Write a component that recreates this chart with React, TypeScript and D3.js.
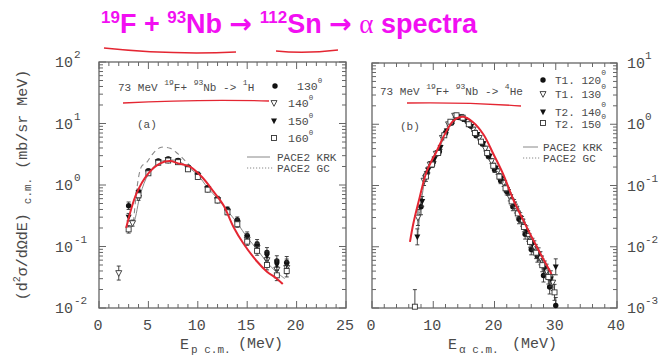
import React from "react";
import * as d3 from "d3";

// ---------- Data: left panel (protons) ----------
const L130_E = [3, 4, 5, 6, 7, 8, 9, 10, 11, 12, 13, 14, 15, 16, 17, 18, 19];
const L130 = [0.46, 0.78, 1.7, 2.45, 2.65, 2.5, 1.95, 1.5, 0.9, 0.6, 0.4, 0.27, 0.15, 0.11, 0.08, 0.058, 0.055];
const L140_E = [2, 3.4, 4, 5, 6, 7, 8, 9, 10, 11, 12, 13, 14, 15, 16, 17, 18, 19];
const L140 = [0.037, 0.24, 0.62, 1.6, 2.35, 2.55, 2.4, 1.85, 1.4, 0.86, 0.57, 0.37, 0.24, 0.13, 0.095, 0.06, 0.042, 0.045];
const L150_E = [3, 4, 5, 6, 7, 8, 9, 10, 11, 12, 13, 14, 15, 16, 17, 18, 19];
const L150 = [0.3, 0.75, 1.65, 2.4, 2.6, 2.45, 1.9, 1.45, 0.88, 0.58, 0.38, 0.25, 0.14, 0.1, 0.07, 0.05, 0.05];
const L160_E = [3, 4, 5, 6, 7, 8, 9, 10, 11, 12, 13, 14, 15, 16, 17, 18, 19];
const L160 = [0.19, 0.68, 1.55, 2.3, 2.5, 2.35, 1.8, 1.35, 0.84, 0.56, 0.36, 0.23, 0.12, 0.085, 0.05, 0.034, 0.04];
const L_ERR = [0.15, 0.1, 0.08, 0.07, 0.07, 0.07, 0.07, 0.08, 0.08, 0.09, 0.1, 0.12, 0.15, 0.18, 0.2, 0.22, 0.25, 0.25];
const L140_ERR = [0.3, 0.12, 0.1, 0.08, 0.07, 0.07, 0.07, 0.07, 0.08, 0.08, 0.09, 0.1, 0.12, 0.15, 0.18, 0.2, 0.22, 0.25];

const LKRK_E = [3.0, 3.5, 4.2, 5, 6, 7, 8, 9, 10, 11, 12, 13, 14, 15, 16, 17, 18, 18.8];
const LKRK = [0.19, 0.24, 0.72, 1.5, 2.3, 2.55, 2.45, 1.95, 1.45, 0.9, 0.6, 0.38, 0.24, 0.14, 0.09, 0.055, 0.038, 0.03];
const LGC_E = [3.5, 4.3, 4.8, 5.3, 5.8, 6.3, 7.2, 8.0, 8.7, 9.5, 10.5];
const LGC = [0.25, 2.0, 2.3, 3.0, 3.7, 4.1, 3.95, 3.2, 2.5, 1.85, 1.3];
const LRED_E = [2.75, 3.8, 5.0, 6.2, 7.2, 8.0, 9.2, 10.4, 11.6, 12.6, 13.6, 14.6, 16, 17, 18, 18.6];
const LRED = [0.2, 0.73, 1.55, 2.25, 2.45, 2.25, 1.99, 1.36, 0.78, 0.47, 0.21, 0.113, 0.057, 0.039, 0.03, 0.0245];

// ---------- Data: right panel (alphas) ----------
const R120_E = [8, 9, 10, 11, 12, 13, 14, 15, 16, 17, 18, 19, 20, 21, 22, 23, 24, 25, 26, 27, 28, 29, 30];
const R120 = [0.045, 0.16, 0.24, 0.36, 0.72, 1.05, 1.3, 1.2, 0.95, 0.65, 0.48, 0.3, 0.18, 0.12, 0.08, 0.045, 0.028, 0.016, 0.009, 0.007, 0.0034, 0.0022, 0.0011];
const R130_E = [7.5, 8.5, 9.5, 10.5, 11.5, 12.5, 13.5, 14.5, 15.5, 16.5, 17.5, 18.5, 19.5, 20.5, 21.5, 22.5, 23.5, 24.5, 25.5, 26.5, 27.5, 28.5, 29.5];
const R130 = [0.03, 0.12, 0.22, 0.33, 0.6, 1.0, 1.38, 1.32, 1.1, 0.82, 0.6, 0.4, 0.25, 0.17, 0.11, 0.065, 0.042, 0.026, 0.015, 0.01, 0.0065, 0.004, 0.0026];
const R140_E = [7.4, 8.2, 9.2, 10.2, 11.2, 12.2, 13.2, 14.2, 15.2, 16.2, 17.2, 18.2, 19.2, 20.2, 21.2, 22.2, 23.2, 24.2, 25.2, 26.2, 27.2, 28.2, 29.2, 30];
const R140 = [0.0145, 0.055, 0.18, 0.27, 0.42, 0.78, 1.1, 1.3, 1.18, 0.92, 0.68, 0.48, 0.3, 0.19, 0.13, 0.08, 0.05, 0.03, 0.018, 0.011, 0.0075, 0.0045, 0.003, 0.0047];
const R150_E = [7.0, 8.8, 9.8, 10.8, 11.8, 12.8, 13.8, 14.8, 15.8, 16.8, 17.8, 18.8, 19.8, 20.8, 21.8, 22.8, 23.8, 24.8, 25.8, 26.8, 27.8, 28.8, 29.8];
const R150 = [0.00105, 0.14, 0.22, 0.34, 0.66, 1.1, 1.4, 1.28, 1.0, 0.72, 0.52, 0.34, 0.21, 0.14, 0.09, 0.055, 0.035, 0.021, 0.012, 0.008, 0.005, 0.0032, 0.0018];
const R_ERR = [0.35, 0.2, 0.12, 0.1, 0.08, 0.07, 0.06, 0.06, 0.06, 0.07, 0.08, 0.09, 0.1, 0.12, 0.14, 0.16, 0.18, 0.2, 0.22, 0.25, 0.28, 0.3, 0.35, 0.35];
const R150_ERR = [0.9, 0.2, 0.12, 0.1, 0.08, 0.07, 0.06, 0.06, 0.06, 0.07, 0.08, 0.09, 0.1, 0.12, 0.14, 0.16, 0.18, 0.2, 0.22, 0.25, 0.28, 0.3, 0.35];

const RKRK_E = [7.5, 8, 9, 10, 11, 12, 13, 14, 15, 16, 17, 18, 19, 20, 21, 22, 23, 24, 25, 26, 27, 28, 29, 30];
const RKRK = [0.015, 0.05, 0.17, 0.26, 0.4, 0.72, 1.05, 1.35, 1.3, 1.05, 0.75, 0.52, 0.33, 0.2, 0.13, 0.085, 0.052, 0.032, 0.019, 0.011, 0.0075, 0.0045, 0.003, 0.0018];
const RGC = [0.02, 0.06, 0.19, 0.29, 0.45, 0.78, 1.12, 1.42, 1.38, 1.12, 0.82, 0.57, 0.37, 0.23, 0.15, 0.1, 0.062, 0.038, 0.023, 0.013, 0.009, 0.0055, 0.0035, 0.0022];
const RRED_E = [6.2, 6.75, 7.8, 8.9, 10.6, 11.9, 13.3, 14.9, 16.5, 18.2, 19.8, 21.4, 23.1, 24.7, 26.9, 29.3];
const RRED = [0.012, 0.024, 0.065, 0.166, 0.37, 0.69, 1.14, 1.32, 1.08, 0.68, 0.33, 0.155, 0.058, 0.027, 0.01, 0.0036];

const LEFT_LEGEND = ["130", "140", "150", "160"];
const RIGHT_LEGEND = ["T1. 120", "T1. 130", "T2. 140", "T2. 150"];
const MARKERS = ["circle", "triOpen", "tri", "square"];

const MONO = "'Liberation Mono', 'DejaVu Sans Mono', monospace";
const TXT = "#4a4a4a";
const AX = "#666";
const RED = "#e42632";

function Marker({ type, x, y }: { type: string; x: number; y: number }) {
  const s = 3;
  if (type === "circle") return <circle cx={x} cy={y} r={2.7} fill="#111" />;
  if (type === "tri" || type === "triOpen") {
    const p = `M${x - s},${y - s * 0.8}L${x + s},${y - s * 0.8}L${x},${y + s * 1.1}Z`;
    return type === "tri" ? (
      <path d={p} fill="#111" />
    ) : (
      <path d={p} fill="#fff" stroke="#333" strokeWidth={0.9} />
    );
  }
  return <rect x={x - 2.5} y={y - 2.5} width={5} height={5} fill="#fff" stroke="#333" strokeWidth={0.9} />;
}

type Sc = (v: number) => number;

function Series({ E, V, err, type, x, y, ymin }: { E: number[]; V: number[]; err: number[]; type: string; x: Sc; y: Sc; ymin: number }) {
  return (
    <g>
      {E.map((e, i) => {
        const v = V[i];
        const r = err[i] ?? 0.1;
        const hi = v * (1 + r);
        const lo = Math.max(v / (1 + r), ymin);
        const cx = x(e);
        return (
          <g key={i}>
            <line x1={cx} x2={cx} y1={y(hi)} y2={y(lo)} stroke="#333" strokeWidth={0.9} />
            <line x1={cx - 2} x2={cx + 2} y1={y(hi)} y2={y(hi)} stroke="#333" strokeWidth={0.9} />
            <line x1={cx - 2} x2={cx + 2} y1={y(lo)} y2={y(lo)} stroke="#333" strokeWidth={0.9} />
            <Marker type={type} x={cx} y={y(v)} />
          </g>
        );
      })}
    </g>
  );
}

function Frame({ x, y, xMinor, xMajor, xLabels, yLeftLabels, yRightLabels }: any) {
  const [x0, x1] = x.range();
  const [y0, y1] = y.range();
  const [dmin, dmax] = y.domain();
  const ticks: React.ReactNode[] = [];
  const xd = x.domain();
  for (let v = xd[0]; v <= xd[1] + 1e-9; v += xMinor) {
    const major = Math.abs(v / xMajor - Math.round(v / xMajor)) < 1e-6;
    const len = major ? 7 : 4;
    const px = x(v);
    ticks.push(<line key={"xb" + v} x1={px} x2={px} y1={y0} y2={y0 - len} />);
    ticks.push(<line key={"xt" + v} x1={px} x2={px} y1={y1} y2={y1 + len} />);
  }
  const lmin = Math.round(Math.log10(dmin));
  const lmax = Math.round(Math.log10(dmax));
  for (let d = lmin; d <= lmax; d++) {
    for (let k = 1; k <= 9; k++) {
      const v = k * Math.pow(10, d);
      if (v > dmax * 1.0001) break;
      const py = y(v);
      const len = k === 1 ? 7 : 4;
      ticks.push(<line key={"yl" + d + k} x1={x0} x2={x0 + len} y1={py} y2={py} />);
      ticks.push(<line key={"yr" + d + k} x1={x1} x2={x1 - len} y1={py} y2={py} />);
    }
  }
  const decades = d3.range(lmin, lmax + 1);
  return (
    <g>
      <rect x={x0} y={y1} width={x1 - x0} height={y0 - y1} fill="none" stroke={AX} strokeWidth={1.3} />
      <g stroke={AX} strokeWidth={1}>{ticks}</g>
      {xLabels && (
        <g fontFamily={MONO} fontSize={15} fill={TXT} textAnchor="middle">
          {xLabels.map((v: number) => (
            <text key={v} x={x(v) - 1} y={y0 + 22}>{v}</text>
          ))}
        </g>
      )}
      {yLeftLabels && (
        <g fontFamily={MONO} fill={TXT}>
          {decades.map((d) => (
            <g key={d}>
              <text x={x0 - 26} y={y(Math.pow(10, d)) + 5} fontSize={15} textAnchor="end">10</text>
              <text x={x0 - 25} y={y(Math.pow(10, d)) - 4} fontSize={11}>{d}</text>
            </g>
          ))}
        </g>
      )}
      {yRightLabels && (
        <g fontFamily={MONO} fill={TXT}>
          {decades.map((d) => (
            <g key={d}>
              <text x={x1 + 10} y={y(Math.pow(10, d)) + 5} fontSize={15}>10</text>
              <text x={x1 + 28} y={y(Math.pow(10, d)) - 4} fontSize={11}>{d}</text>
            </g>
          ))}
        </g>
      )}
    </g>
  );
}

function curvePath(E: number[], V: number[], x: Sc, y: Sc) {
  const gen = d3
    .line<number>()
    .x((_, i) => x(E[i]))
    .y((v) => y(v))
    .curve(d3.curveCatmullRom.alpha(0.5));
  return gen(V) || "";
}

export default function App() {
  const xL = d3.scaleLinear().domain([0, 25]).range([99, 346]);
  const yL = d3.scaleLog().domain([0.01, 100]).range([308, 62]);
  const xR = d3.scaleLinear().domain([0, 40]).range([372, 617]);
  const yR = d3.scaleLog().domain([0.001, 10]).range([308, 63]);

  const leftSeries = [
    { E: L130_E, V: L130, err: L_ERR },
    { E: L140_E, V: L140, err: L140_ERR },
    { E: L150_E, V: L150, err: L_ERR },
    { E: L160_E, V: L160, err: L_ERR },
  ];
  const rightSeries = [
    { E: R120_E, V: R120, err: R_ERR },
    { E: R130_E, V: R130, err: R_ERR },
    { E: R140_E, V: R140, err: R_ERR },
    { E: R150_E, V: R150, err: R150_ERR },
  ];

  const legL = [
    { sx: 275, sy: 86, tx: 297, ty: 90 },
    { sx: 274, sy: 103, tx: 288, ty: 107 },
    { sx: 274, sy: 121, tx: 288, ty: 125 },
    { sx: 274, sy: 138, tx: 288, ty: 142 },
  ];
  const legR = [
    { sx: 543, sy: 80, tx: 555, ty: 84 },
    { sx: 543, sy: 94, tx: 555, ty: 98 },
    { sx: 543, sy: 112, tx: 555, ty: 116 },
    { sx: 543, sy: 123, tx: 555, ty: 128 },
  ];

  const ARROW = "'DejaVu Sans', sans-serif";

  return (
    <svg width={664} height={358} style={{ position: "absolute", left: 0, top: 0, background: "#fff" }}>
      <rect width={664} height={358} fill="#fff" />
      {/* Title */}
      <text x={101} y={33} fill="#f20ff2" fontFamily="'Liberation Sans', Arial, sans-serif" fontWeight="bold" fontSize={27}>
        <tspan fontSize={17} dy={-10}>19</tspan>
        <tspan dy={10}>F + </tspan>
        <tspan fontSize={17} dy={-10}>93</tspan>
        <tspan dy={10}>Nb </tspan>
        <tspan fontFamily={ARROW}>→</tspan>
        <tspan> </tspan>
        <tspan fontSize={17} dy={-10}>112</tspan>
        <tspan dy={10}>Sn </tspan>
        <tspan fontFamily={ARROW}>→</tspan>
        <tspan> </tspan>
        <tspan fontFamily="'Liberation Serif', serif" fontWeight="normal">α</tspan>
        <tspan> spectra</tspan>
      </text>
      <path d="M104,48 Q170,55 236,52" fill="none" stroke={RED} strokeWidth={1.5} />
      <path d="M276,51 Q305,54 338,50" fill="none" stroke={RED} strokeWidth={1.5} />

      {/* Y axis title */}
      <text transform="translate(27,185) rotate(-90)" textAnchor="middle" fontFamily={MONO} fontSize={15} fill={TXT}>
        <tspan>(d</tspan>
        <tspan fontSize={10} dy={-7}>2</tspan>
        <tspan dy={7}>σ/dΩdE) </tspan>
        <tspan fontSize={11} dy={4}>c.m.</tspan>
        <tspan dy={-4}> (mb/sr MeV)</tspan>
      </text>

      {/* Left panel */}
      <Frame x={xL} y={yL} xMinor={1} xMajor={5} xLabels={[0, 5, 10, 15, 20, 25]} yLeftLabels />
      <g fill="none">
        <path d={curvePath(LKRK_E, LKRK, xL, yL)} stroke="#888" strokeWidth={1} />
        <path d={curvePath(LGC_E, LGC, xL, yL)} stroke="#888" strokeWidth={1.1} strokeDasharray="5,4" />
      </g>
      {leftSeries.map((s, i) => (
        <Series key={i} E={s.E} V={s.V} err={s.err} type={MARKERS[i]} x={xL} y={yL} ymin={0.0105} />
      ))}
      <path d={curvePath(LRED_E, LRED, xL, yL)} fill="none" stroke={RED} strokeWidth={2} />

      <g fontFamily={MONO} fontSize={11} fill={TXT}>
        <text x={118} y={91}>
          <tspan>73 MeV </tspan>
          <tspan fontSize={8} dy={-6}>19</tspan>
          <tspan dy={6}>F+ </tspan>
          <tspan fontSize={8} dy={-6}>93</tspan>
          <tspan dy={6}>Nb -&gt; </tspan>
          <tspan fontSize={8} dy={-6}>1</tspan>
          <tspan dy={6}>H</tspan>
        </text>
        <text x={137} y={128}>(a)</text>
        {LEFT_LEGEND.map((t, i) => (
          <g key={t}>
            <Marker type={MARKERS[i]} x={legL[i].sx} y={legL[i].sy} />
            <text x={legL[i].tx} y={legL[i].ty} fontSize={11.5}>
              {t}
              <tspan fontSize={7.5} dy={-7}>0</tspan>
            </text>
          </g>
        ))}
        <line x1={247} x2={270} y1={157} y2={157} stroke="#888" strokeWidth={1} />
        <text x={277} y={161}>PACE2 KRK</text>
        <line x1={247} x2={273} y1={168} y2={168} stroke="#888" strokeWidth={1} strokeDasharray="1.2,1.8" />
        <text x={277} y={172}>PACE2 GC</text>
      </g>
      <path d="M123,103 Q200,99 269,101" fill="none" stroke={RED} strokeWidth={1.3} />

      <g fontFamily={MONO} fill={TXT}>
        <text x={180} y={349} fontSize={15}>E</text>
        <text x={191} y={353} fontSize={11}>p c.m.</text>
        <text x={238} y={348} fontSize={15}>(MeV)</text>
      </g>

      {/* Right panel */}
      <Frame x={xR} y={yR} xMinor={2} xMajor={10} xLabels={[0, 10, 20, 30, 40]} yRightLabels />
      <g fill="none">
        <path d={curvePath(RKRK_E, RKRK, xR, yR)} stroke="#888" strokeWidth={1} />
        <path d={curvePath(RKRK_E, RGC, xR, yR)} stroke="#888" strokeWidth={1} strokeDasharray="1.5,1.5" />
      </g>
      {rightSeries.map((s, i) => (
        <Series key={i} E={s.E} V={s.V} err={s.err} type={MARKERS[i]} x={xR} y={yR} ymin={0.00105} />
      ))}
      <path d={curvePath(RRED_E, RRED, xR, yR)} fill="none" stroke={RED} strokeWidth={2} />

      <g fontFamily={MONO} fontSize={11} fill={TXT}>
        <text x={380} y={95}>
          <tspan>73 MeV </tspan>
          <tspan fontSize={8} dy={-6}>19</tspan>
          <tspan dy={6}>F+ </tspan>
          <tspan fontSize={8} dy={-6}>93</tspan>
          <tspan dy={6}>Nb -&gt; </tspan>
          <tspan fontSize={8} dy={-6}>4</tspan>
          <tspan dy={6}>He</tspan>
        </text>
        <text x={400} y={130}>(b)</text>
        {RIGHT_LEGEND.map((t, i) => (
          <g key={t}>
            <Marker type={MARKERS[i]} x={legR[i].sx} y={legR[i].sy} />
            <text x={legR[i].tx} y={legR[i].ty}>
              {t}
              <tspan fontSize={8} dy={-9}>0</tspan>
            </text>
          </g>
        ))}
        <line x1={523} x2={538} y1={147} y2={147} stroke="#888" strokeWidth={1} />
        <text x={543} y={151}>PACE2 KRK</text>
        <line x1={523} x2={540} y1={158} y2={158} stroke="#888" strokeWidth={1} strokeDasharray="1.2,1.8" />
        <text x={543} y={162}>PACE2 GC</text>
      </g>
      <path d="M407,103 Q465,102 521,106" fill="none" stroke={RED} strokeWidth={1.3} />

      <g fontFamily={MONO} fill={TXT}>
        <text x={448} y={349} fontSize={15}>E</text>
        <text x={459} y={353} fontSize={11}>α c.m.</text>
        <text x={512} y={348} fontSize={15}>(MeV)</text>
      </g>
    </svg>
  );
}
